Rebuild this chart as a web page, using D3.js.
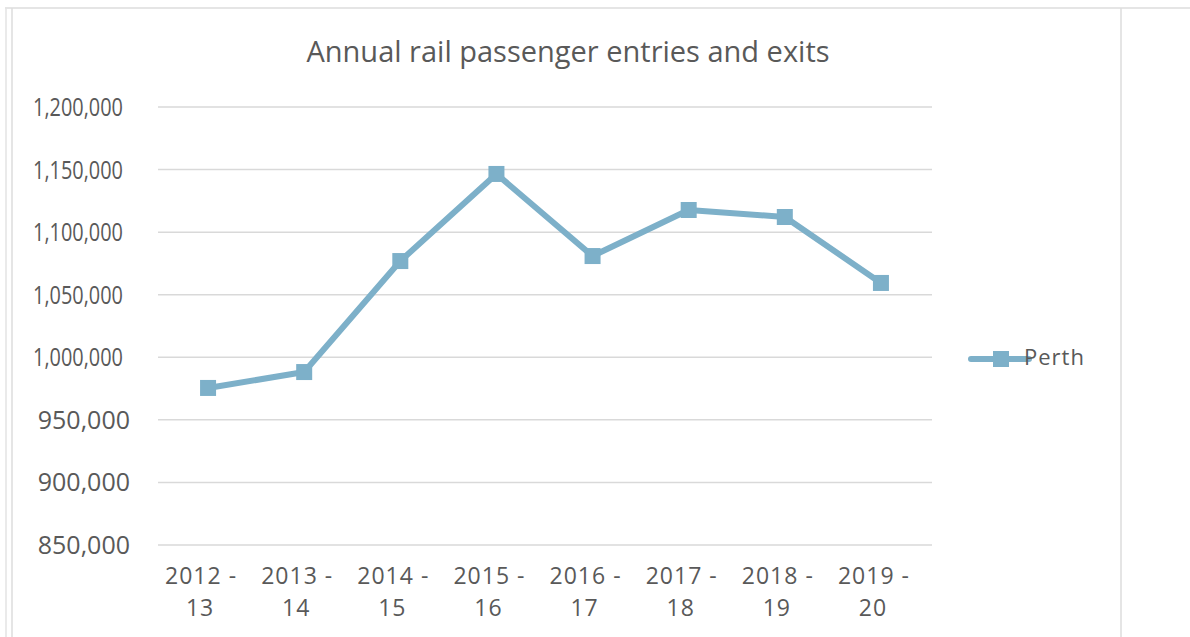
<!DOCTYPE html>
<html>
<head>
<meta charset="utf-8">
<script src="https://cdn.jsdelivr.net/npm/d3@7"></script>
<style>
  html, body { margin: 0; padding: 0; background: #fff; }
  svg text { font-family: "Open Sans", sans-serif; fill: #595959; }
</style>
</head>
<body>
<div id="chart"></div>
<script>
const years = ["2012 - 13", "2013 - 14", "2014 - 15", "2015 - 16", "2016 - 17", "2017 - 18", "2018 - 19", "2019 - 20"];
const perth = [975500, 988200, 1076900, 1146500, 1080900, 1117700, 1112100, 1059400];
const yTicks = [850000, 900000, 950000, 1000000, 1050000, 1100000, 1150000, 1200000];
const seriesName = "Perth";
const title = "Annual rail passenger entries and exits";

const W = 1190, H = 637;
const lineColor = "#7db0c9";
const gridColor = "#d9d9d9";

const svg = d3.select("#chart").append("svg")
      .attr("width", W)
      .attr("height", H);

// frame lines round the chart
svg.append("line").attr("x1", 5).attr("x2", W).attr("y1", 8).attr("y2", 8)
      .attr("stroke", "#dcdcdc").attr("stroke-width", 1.5);
svg.append("line").attr("x1", 6).attr("x2", 6).attr("y1", 8).attr("y2", H)
      .attr("stroke", "#e3e3e3").attr("stroke-width", 1.5);
svg.append("line").attr("x1", 12).attr("x2", 12).attr("y1", 8).attr("y2", H)
      .attr("stroke", "#dcdcdc").attr("stroke-width", 1.5);
svg.append("line").attr("x1", 1121).attr("x2", 1121).attr("y1", 8).attr("y2", H)
      .attr("stroke", "#dcdcdc").attr("stroke-width", 1.5);

svg.append("text")
      .attr("x", 568)
      .attr("y", 62)
      .attr("text-anchor", "middle")
      .style("font-size", "29px")
      .text(title);

const x = d3.scaleBand()
      .domain(years)
      .range([160, 929]);

const y = d3.scaleLinear()
      .domain([850000, 1200000])
      .range([545, 107]);

const fmt = d3.format(",");

// grid
svg.append("g")
      .selectAll("line")
      .data(yTicks)
      .join("line")
      .attr("x1", 158)
      .attr("x2", 932)
      .attr("y1", d => y(d))
      .attr("y2", d => y(d))
      .attr("stroke", gridColor)
      .attr("stroke-width", 1.5);

// y labels - upper ones look condensed in the original
svg.append("g")
      .selectAll("text")
      .data(yTicks)
      .join("text")
      .attr("x", d => d >= 1000000 ? 123 : 130)
      .attr("y", d => y(d))
      .attr("dy", "0.36em")
      .attr("text-anchor", "end")
      .style("font-size", "25px")
      .each(function (d) {
            if (d >= 1000000) d3.select(this).attr("textLength", 90).attr("lengthAdjust", "spacingAndGlyphs");
      })
      .text(d => fmt(d));

// x labels, two lines each
const xl = svg.append("g")
      .selectAll("text")
      .data(years)
      .join("text")
      .attr("text-anchor", "middle")
      .style("font-size", "23px")
      .style("letter-spacing", "1px");
xl.append("tspan")
      .attr("x", d => x(d) + x.bandwidth() / 2 - 7)
      .attr("y", 584)
      .text(d => d.split(" ").slice(0, 2).join(" "));
xl.append("tspan")
      .attr("x", d => x(d) + x.bandwidth() / 2 - 8)
      .attr("y", 616)
      .text(d => d.split(" ")[2]);

const data = years.map((d, i) => ({year: d, value: perth[i]}));

svg.append("path")
      .datum(data)
      .attr("fill", "none")
      .attr("stroke", lineColor)
      .attr("stroke-width", 6)
      .attr("stroke-linejoin", "round")
      .attr("d", d3.line()
            .x(function (d) { return x(d.year) + x.bandwidth() / 2 })
            .y(function (d) { return y(d.value) })
      );

const ms = 16;
svg.append("g")
      .selectAll("rect")
      .data(data)
      .join("rect")
      .attr("x", d => x(d.year) + x.bandwidth() / 2 - ms / 2)
      .attr("y", d => y(d.value) - ms / 2)
      .attr("width", ms)
      .attr("height", ms)
      .attr("fill", lineColor);

// legend
const lg = svg.append("g").attr("transform", "translate(971,359)");
lg.append("line").attr("x1", 0).attr("x2", 58).attr("y1", 0).attr("y2", 0)
      .attr("stroke", lineColor).attr("stroke-width", 6).attr("stroke-linecap", "round");
lg.append("rect").attr("x", 30 - ms / 2).attr("y", -ms / 2).attr("width", ms).attr("height", ms)
      .attr("fill", lineColor);
lg.append("text")
      .attr("x", 53)
      .attr("y", 6)
      .style("font-size", "22px")
      .style("letter-spacing", "1px")
      .text(seriesName);
</script>
</body>
</html>
